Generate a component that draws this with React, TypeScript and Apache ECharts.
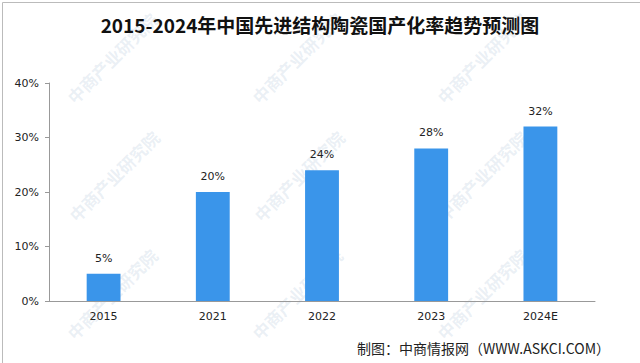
import React, { useEffect, useRef } from "react";
import * as echarts from "echarts";

const categories = ["2015", "2021", "2022", "2023", "2024E"];
const values = [5, 20, 24, 28, 32];
const yTicks = { min: 0, max: 40, interval: 10 };
const titleText = "2015-2024年中国先进结构陶瓷国产化率趋势预测图";
const sourceText = "制图：中商情报网（WWW.ASKCI.COM）";
const watermarkText = "中商产业研究院";
const watermarkSpots = [
  [70, 100], [255, 100], [440, 100],
  [72, 218], [257, 218], [440, 218],
  [70, 336], [255, 336], [440, 336],
];

export default function App() {
  const ref = useRef<HTMLDivElement>(null);
  useEffect(() => {
    document.body.style.margin = "0";
    const chart = echarts.init(ref.current!, undefined, { renderer: "svg" });
    const watermarks = watermarkSpots.map(([x, y]) => ({
      type: "text",
      x,
      y,
      rotation: Math.PI / 4,
      silent: true,
      z: -10,
      style: {
        text: watermarkText,
        fill: "rgba(150,175,205,0.2)",
        font: "bold 17px 'Noto Sans CJK SC'",
        textAlign: "left",
        textVerticalAlign: "middle",
      },
    }));
    chart.setOption({
      animation: false,
      backgroundColor: "#ffffff",
      title: {
        text: titleText,
        left: "center",
        top: 10,
        textStyle: {
          fontFamily: "'Noto Sans CJK SC'",
          fontWeight: "bold",
          fontSize: 19,
          color: "#111",
        },
      },
      grid: { left: 49, right: 45, top: 83, bottom: 62 },
      xAxis: {
        type: "category",
        data: categories,
        axisLine: { lineStyle: { color: "#999" } },
        axisTick: { show: false },
        axisLabel: { color: "#222", fontSize: 11, margin: 10, fontFamily: "'DejaVu Sans'" },
      },
      yAxis: {
        type: "value",
        min: yTicks.min,
        max: yTicks.max,
        interval: yTicks.interval,
        axisLine: { show: true, lineStyle: { color: "#999" } },
        axisTick: { show: true, length: 4, lineStyle: { color: "#999" } },
        splitLine: { show: false },
        axisLabel: { color: "#222", fontSize: 11, margin: 10, formatter: "{value}%", fontFamily: "'DejaVu Sans'" },
      },
      series: [
        {
          type: "bar",
          data: values,
          barWidth: "31%",
          itemStyle: { color: "#3a95ea" },
          label: {
            show: true,
            position: "top",
            distance: 10,
            formatter: "{c}%",
            color: "#222",
            fontSize: 11,
            fontFamily: "'DejaVu Sans'",
          },
        },
      ],
      graphic: [
        ...watermarks,
        {
          type: "text",
          right: 30,
          bottom: 8,
          style: {
            text: sourceText,
            fill: "#222",
            font: "14px 'Noto Sans CJK SC'",
          },
        },
        {
          type: "rect",
          left: 0,
          top: 0,
          shape: { width: 639, height: 362 },
          silent: true,
          style: { fill: "none", stroke: "#bbb", lineWidth: 1 },
        },
      ],
    });
    return () => chart.dispose();
  }, []);
  return <div ref={ref} style={{ width: 640, height: 363 }} />;
}
